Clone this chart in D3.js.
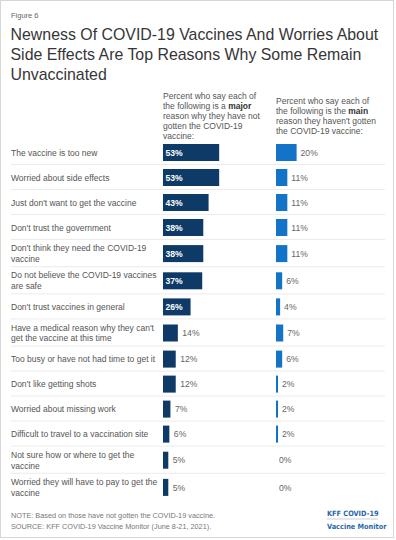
<!DOCTYPE html>
<html>
<head>
<meta charset="utf-8">
<script src="https://cdn.jsdelivr.net/npm/d3@7"></script>
<style>
  html, body { margin: 0; padding: 0; background: #fff; }
  svg { display: block; font-family: "Liberation Sans", Arial, Helvetica, sans-serif; }
</style>
</head>
<body>
<svg id="chart" width="396" height="540"></svg>
<script>
const figureLabel = "Figure 6";
const titleLines = [
  "Newness Of COVID-19 Vaccines And Worries About",
  "Side Effects Are Top Reasons Why Some Remain",
  "Unvaccinated"
];
const categories = [
  "The vaccine is too new",
  "Worried about side effects",
  "Just don't want to get the vaccine",
  "Don't trust the government",
  "Don't think they need the COVID-19 vaccine",
  "Do not believe the COVID-19 vaccines are safe",
  "Don't trust vaccines in general",
  "Have a medical reason why they can't get the vaccine at this time",
  "Too busy or have not had time to get it",
  "Don't like getting shots",
  "Worried about missing work",
  "Difficult to travel to a vaccination site",
  "Not sure how or where to get the vaccine",
  "Worried they will have to pay to get the vaccine"
];
const majorReason = [53, 53, 43, 38, 38, 37, 26, 14, 12, 12, 7, 6, 5, 5];
const mainReason  = [20, 11, 11, 11, 11, 6, 4, 7, 6, 2, 2, 2, 0, 0];
const headerMajor = [["Percent who say each of"], ["the following is a ", ["major"]], ["reason why they have not"], ["gotten the COVID-19"], ["vaccine:"]];
const headerMain  = [["Percent who say each of"], ["the following is the ", ["main"]], ["reason they haven't gotten"], ["the COVID-19 vaccine:"]];
const noteLines = [
  "NOTE: Based on those have not gotten the COVID-19 vaccine.",
  "SOURCE: KFF COVID-19 Vaccine Monitor (June 8-21, 2021)."
];
const logoLines = ["KFF COVID-19", "Vaccine Monitor"];

const svg = d3.select("#chart");

// frame
svg.append("rect").attr("x", 0.5).attr("y", 0.5).attr("width", 393).attr("height", 537)
  .attr("fill", "#fff").attr("stroke", "#d6d6d6").attr("stroke-width", 1);

svg.append("text").attr("x", 11).attr("y", 18.3).attr("font-size", 7.5).attr("fill", "#666").text(figureLabel);

svg.append("g").selectAll("text").data(titleLines).join("text")
  .attr("x", 10.5).attr("y", (d, i) => 39.5 + i * 20)
  .attr("font-size", 15.9).attr("fill", "#363636").text(d => d);

function header(lines, x, y0) {
  const t = svg.append("text").attr("font-size", 8.5).attr("fill", "#555");
  lines.forEach((ln, i) => {
    const ts = t.append("tspan").attr("x", x).attr("y", y0 + i * 10);
    ts.text(ln[0]);
    if (ln[1]) t.append("tspan").attr("font-weight", "bold").attr("fill", "#333").text(ln[1][0]);
  });
}
header(headerMajor, 163, 99);
header(headerMain, 276, 104);

// label wrapping
const labelSize = 8.5;
const measurer = svg.append("text").attr("font-size", labelSize).attr("visibility", "hidden");
function wrap(str, maxW) {
  const words = str.split(" ");
  const lines = [];
  let cur = "";
  words.forEach(w => {
    const test = cur ? cur + " " + w : w;
    measurer.text(test);
    if (measurer.node().getComputedTextLength() > maxW && cur) { lines.push(cur); cur = w; }
    else cur = test;
  });
  lines.push(cur);
  return lines;
}
const wrapped = categories.map(c => wrap(c, 150));
measurer.remove();

const singleH = 25, doubleH = 27.2;
const heights = wrapped.map(l => l.length > 1 ? doubleH : singleH);
const tops = [];
let acc = 140;
heights.forEach(h => { tops.push(acc); acc += h; });
const yTop = d3.scaleOrdinal().domain(categories).range(tops);
const yH = d3.scaleOrdinal().domain(categories).range(heights);

const xMajor = d3.scaleLinear().domain([0, 100]).range([163, 163 + 106]);
const xMain = d3.scaleLinear().domain([0, 100]).range([276, 276 + 103]);
const barH = 17;

const rows = categories.map((c, i) => ({ c, lines: wrapped[i], major: majorReason[i], main: mainReason[i], i }));

// separators
svg.append("g").selectAll("line").data(rows.slice(0, -1)).join("line")
  .attr("x1", 11).attr("x2", 385)
  .attr("y1", d => yTop(d.c) + yH(d.c) - 0.5).attr("y2", d => yTop(d.c) + yH(d.c) - 0.5)
  .attr("stroke", "#ebebeb").attr("stroke-width", 1);

const g = svg.append("g");
const rowG = g.selectAll("g").data(rows).join("g");

rowG.append("text").attr("font-size", labelSize).attr("fill", "#555")
  .each(function(d) {
    const cy = yTop(d.c) + yH(d.c) / 2;
    const n = d.lines.length;
    d3.select(this).selectAll("tspan").data(d.lines).join("tspan")
      .attr("x", 11).attr("y", (l, k) => cy + 3 + (k - (n - 1) / 2) * 10.7).text(l => l);
  });

rowG.append("rect")
  .attr("x", xMajor(0)).attr("y", d => yTop(d.c) + (yH(d.c) - barH) / 2)
  .attr("width", d => xMajor(d.major) - xMajor(0)).attr("height", barH)
  .attr("fill", "#0d3a66");

rowG.append("text")
  .attr("x", d => d.major >= 20 ? xMajor(0) + 2.5 : xMajor(d.major) + 4.5)
  .attr("y", d => yTop(d.c) + yH(d.c) / 2 + 3.2)
  .attr("font-size", 8.6)
  .attr("font-weight", d => d.major >= 20 ? "bold" : "normal")
  .attr("fill", d => d.major >= 20 ? "#fff" : "#666")
  .text(d => d.major + "%");

rowG.append("rect")
  .attr("x", xMain(0)).attr("y", d => yTop(d.c) + (yH(d.c) - barH) / 2)
  .attr("width", d => xMain(d.main) - xMain(0)).attr("height", barH)
  .attr("fill", "#1273c7");

rowG.append("text")
  .attr("x", d => d.main > 0 ? xMain(d.main) + 4 : xMain(0) + 3)
  .attr("y", d => yTop(d.c) + yH(d.c) / 2 + 3.2)
  .attr("font-size", 8.6).attr("fill", "#666")
  .text(d => d.main + "%");

// footer
svg.append("g").selectAll("text").data(noteLines).join("text")
  .attr("x", 11).attr("y", (d, i) => 518 + i * 11)
  .attr("font-size", 7.3).attr("fill", "#777").text(d => d);

const logo = svg.append("g");
logo.selectAll("text").data(logoLines).join("text")
  .attr("x", 327).attr("y", (d, i) => 516 + i * 12.5)
  .attr("font-family", "'DejaVu Sans Condensed', Roboto, sans-serif")
  .attr("font-stretch", "condensed")
  .attr("font-size", 7.3).attr("font-weight", "bold").attr("fill", "#2a68ac")
  .text(d => d);
logo.append("line").attr("x1", 327).attr("x2", 378).attr("y1", 519).attr("y2", 519)
  .attr("stroke", "#a9b4bf").attr("stroke-width", 0.6);
</script>
</body>
</html>
